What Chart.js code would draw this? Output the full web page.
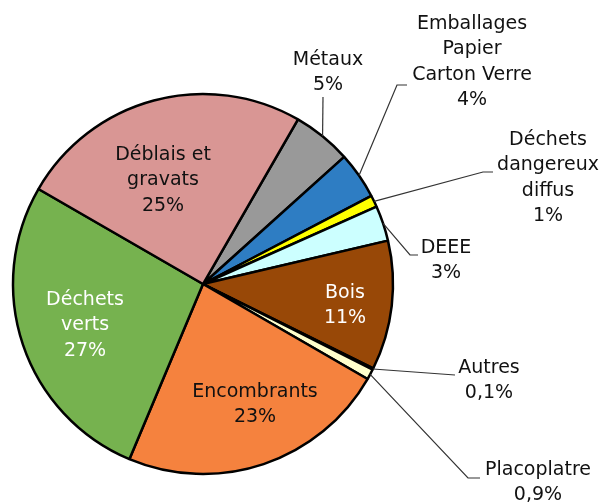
<!DOCTYPE html>
<html>
<head>
<meta charset="utf-8">
<script src="https://cdn.jsdelivr.net/npm/chart.js@4/dist/chart.umd.min.js"></script>
<style>
  body { margin: 0; background: #fff; }
</style>
</head>
<body>
<canvas id="pieChart" width="604" height="504"></canvas>
<script>
// Categories (clockwise, starting at Métaux)
const categories = ["Métaux", "Emballages\nPapier\nCarton Verre", "Déchets\ndangereux\ndiffus", "DEEE", "Bois",
  "Autres", "Placoplatre", "Encombrants", "Déchets\nverts", "Déblais et\ngravats"];
// Share of each category in %
const shares = [5, 4, 1, 3, 11, 0.1, 0.9, 23, 27, 25];
// Percent labels as printed
const shareLabels = ["5%", "4%", "1%", "3%", "11%", "0,1%", "0,9%", "23%", "27%", "25%"];

const sliceColors = ["#999999", "#2E7DC3", "#FFFF00", "#CCFFFF", "#984807",
  "#000000", "#FFFFCC", "#F5823E", "#76B24F", "#D99694"];

// Where each label goes: text centre x, y of first line, optional leader elbow points
const labelLayout = [
  { x: 328, y: 60, color: "#111", leader: [[323, 97]] },
  { x: 472, y: 24, color: "#111", leader: [[397, 85], [407, 85]] },
  { x: 548, y: 140, color: "#111", leader: [[483, 172], [493, 172]] },
  { x: 446, y: 248, color: "#111", leader: [[410, 255], [418, 255]] },
  { x: 345, y: 293, color: "#fff" },
  { x: 489, y: 368, color: "#111", leader: [[455, 375]] },
  { x: 538, y: 470, color: "#111", leader: [[468, 478], [480, 478]] },
  { x: 255, y: 392, color: "#111" },
  { x: 85, y: 300, color: "#fff" },
  { x: 163, y: 155, color: "#111" }
];

// Plugin that writes the labels and draws the leader lines
const pieLabels = {
  id: "pieLabels",
  afterDatasetsDraw(chart) {
    const ctx = chart.ctx;
    const arcs = chart.getDatasetMeta(0).data;
    ctx.save();
    arcs.forEach((arc, i) => {
      const lay = labelLayout[i];
      if (lay.leader) {
        const mid = (arc.startAngle + arc.endAngle) / 2;
        ctx.beginPath();
        ctx.moveTo(arc.x + Math.cos(mid) * arc.outerRadius, arc.y + Math.sin(mid) * arc.outerRadius);
        lay.leader.forEach((p) => ctx.lineTo(p[0], p[1]));
        ctx.strokeStyle = "#333";
        ctx.lineWidth = 1.2;
        ctx.stroke();
      }
      const lines = categories[i].split("\n").concat([shareLabels[i]]);
      ctx.font = "19px 'DejaVu Sans'";
      ctx.fillStyle = lay.color;
      ctx.textAlign = "center";
      ctx.textBaseline = "middle";
      lines.forEach((t, k) => ctx.fillText(t, lay.x, lay.y + k * 25.5));
    });
    ctx.restore();
  }
};

new Chart("pieChart", {
  type: "pie",
  data: {
    labels: categories,
    datasets: [
      {
        data: shares,
        backgroundColor: sliceColors,
        borderColor: "#000",
        borderWidth: 2.5,
      },
    ],
  },
  options: {
    responsive: false,
    animation: false,
    devicePixelRatio: 1,
    rotation: 30,
    radius: 190,
    layout: { padding: { left: 0, right: 198, top: 64, bottom: 0 } },
    plugins: {
      legend: { display: false },
      tooltip: { enabled: false },
    },
  },
  plugins: [pieLabels],
});
</script>
</body>
</html>
